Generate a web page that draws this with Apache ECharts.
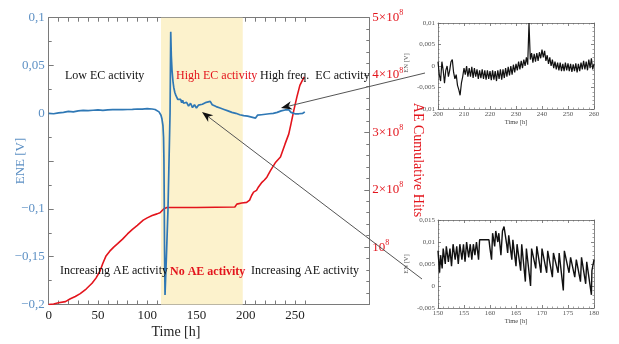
<!DOCTYPE html>
<html><head><meta charset="utf-8">
<script src="https://cdn.jsdelivr.net/npm/echarts@6/dist/echarts.min.js"></script>
<style>html,body{margin:0;padding:0;background:#fff}#chart{width:619px;height:344px}</style>
</head><body><div id="chart"></div><script>
// Electrochemical noise (ENE) and cumulative acoustic emission hits versus time
const ecTime = [0,5,10,15,20,25,30,35,40,45,50,55,60,65,70,75,80,85,90,95,100,105,108,110,112,113,114,115,116,116.6,117,117.3,117.6,118.1,
  119.5,121.1,123.2,123.9,124.5,125.2,126.2,127,128,129,
  130,131,132,133,134,135,136,137,138,139,140,142,144,146,148,150,152,154,156,158,160,162,164,166,168,170,172,174,176,178,180,
  182,184,186,188,190,192,194,196,198,200,202,204,206,208,210,212,214,216,218,220,222,224,226,228,230,
  232,234,236,238,240,242,244,246,248,250,252,254,256,258,260];
const ecValue = [0,-0.0005,0.0005,0.001,0.002,0.0015,0.0025,0.003,0.0028,0.0032,0.0035,0.003,0.0035,0.0038,0.004,0.0038,0.004,0.0042,0.0045,0.0044,0.0048,0.0045,0.004,0.0032,0.0015,0.001,-0.002,-0.006,-0.013,-0.025,-0.049,-0.09,-0.143,-0.19,
  -0.15,-0.101,0.0,0.0854,0.06,0.045,0.033,0.027,0.022,0.019,
  0.018,0.0145,0.016,0.0125,0.0145,0.011,0.0135,0.0105,0.0125,0.009,0.0115,0.0075,0.0105,0.006,0.009,0.0055,0.0085,0.0065,0.0095,0.0085,0.0115,0.0095,0.0125,0.009,0.0105,0.007,0.009,0.0055,0.0075,0.004,0.006,0.0025,
  0.0045,0.001,0.003,0.0,0.0015,-0.0015,0.0005,-0.0025,-0.0005,-0.003,-0.0015,-0.004,-0.002,-0.005,-0.002,-0.0035,-0.0015,-0.003,-0.001,-0.0025,-0.0005,-0.002,0.0,-0.001,0.001,
  0.0,0.0025,0.002,0.0035,0.0025,0.0035,0.001,0.002,-0.0005,0.0005,-0.0005,0.001,0.0,0.0015,0.0005];

const aeTime = [0,5,10,17,22,27,32,38,44,48,52,55,58,62,66,70,75,80,85,90,96,100,105,110,113,115,117,120,150,189,191,196,201,204,206,208,211,213,215,216.5,219,221.5,225,230,235.3,240,243.7,246,248.8,252,255,257.3,259.5];
const aeHits = [0,0.01e8,0.03e8,0.05e8,0.1e8,0.14e8,0.19e8,0.27e8,0.37e8,0.46e8,0.58e8,0.72e8,0.84e8,0.93e8,1.0e8,1.06e8,1.14e8,1.23e8,1.31e8,1.38e8,1.47e8,1.51e8,1.55e8,1.58e8,1.6e8,1.62e8,1.67e8,1.69e8,1.69e8,1.70e8,1.75e8,1.77e8,1.78e8,1.82e8,1.9e8,1.96e8,1.99e8,2.05e8,2.08e8,2.13e8,2.17e8,2.22e8,2.33e8,2.47e8,2.57e8,2.8e8,2.97e8,3.15e8,3.38e8,3.62e8,3.82e8,3.9e8,3.97e8];

// detail 200–260 h, one reading every half hour
const detailAStart = 200, detailAStep = 0.5;
const detailAValue = [
  0.001,-0.002,-0.0035,0.001,-0.001,-0.004,-0.001,0.0,-0.0025,-0.001,
  0.001,0.0015,-0.0015,-0.003,-0.002,-0.0045,-0.0055,-0.0068,-0.004,-0.0025,
  -0.0005,-0.002,0.0,-0.0025,-0.0005,-0.0025,-0.0002,-0.0028,-0.0005,-0.0025,
  -0.0008,-0.003,-0.001,-0.0028,-0.0008,-0.003,-0.001,-0.0032,-0.001,-0.003,
  -0.0012,-0.0033,-0.001,-0.0032,-0.0012,-0.0035,-0.001,-0.003,-0.0008,-0.0032,
  -0.0008,-0.0028,-0.0005,-0.0025,-0.0002,-0.0022,0.0,-0.002,0.0003,-0.0015,
  0.0005,-0.001,0.001,-0.0008,0.0012,-0.0005,0.0015,0.0,0.002,0.0003,
  0.01,0.0015,0.003,0.0008,0.0028,0.001,0.003,0.0012,0.0032,0.0018,
  0.0038,0.002,0.0035,0.0012,0.0025,0.0005,0.002,0.0,0.0015,-0.0005,
  0.001,-0.0008,0.0008,-0.001,0.0008,-0.0012,0.0005,-0.0012,0.0008,-0.001,
  0.0006,-0.0012,0.0005,-0.0014,0.0004,-0.0012,0.0006,-0.0015,0.0005,-0.0012,
  0.0008,-0.0008,0.0012,-0.0008,0.001,-0.001,0.0015,-0.0005,0.0018,-0.0008,
  0.0005];

// detail 150–180 h, sawtooth transients
const detailBTime = [150,150.3,150.5,150.8,151,151.4,151.6,152,152.3,152.6,152.9,153.3,153.6,153.9,154.2,154.6,154.9,155.2,155.5,155.9,156.2,156.5,156.8,157.1,157.4,157.8,158,158.3,
  159.8,160,160.3,160.5,160.9,161.1,161.5,161.7,162.1,162.4,162.7,163.2,163.4,163.6,164.2,164.4,165,165.2,165.9,166.1,166.8,167,167.8,168,168.8,169,169.8,170,170.9,171.1,172,172.2,173.1,173.3,174.1,174.3,175.2,175.5,176.3,176.6,177.4,177.6,178.4,178.6,179.5,179.6,180];
const detailBValue = [0.008,0.003,0.007,0.004,0.0085,0.005,0.009,0.0055,0.0085,0.0045,0.0095,0.006,0.009,0.005,0.0095,0.006,0.0095,0.0055,0.010,0.0065,0.0095,0.006,0.0095,0.007,0.010,0.006,0.0105,0.0105,
  0.0105,0.0085,0.006,0.012,0.009,0.0125,0.010,0.012,0.007,0.0125,0.0135,0.0095,0.0075,0.0115,0.006,0.0105,0.0045,0.0095,0.0035,0.0095,0.001,0.0085,0.0,0.0085,0.004,0.009,0.003,0.0085,0.003,0.008,0.002,0.0075,0.003,0.0075,-0.001,0.008,0.003,0.0065,0.002,0.006,0.001,0.0065,0.0005,0.0055,-0.002,0.0035,0.006];

const mainTickLabels = [0,50,100,150,200,250];
const mainTickMarks = [0,10,20,30,40,50,60,70,80,90,100,110,120,130,140,150,160,170,180,190,200,210,220,230,240,250,260];
const quietBand = [114, 197];

const SERIF = 'Liberation Serif';
const BLUE = '#2f78b5', BLUE_TXT = '#5d90c4', RED = '#e3141c', BAND = '#fcf2cc', AXIS = '#7a7a7a';

const pair = (xs, ys) => xs.map((x, i) => [x, ys[i]]);
const detailA = detailAValue.map((v, i) => [detailAStart + i * detailAStep, v]);

const leftFmt = v => {
  const r = Math.round(v * 1000) / 1000;
  if (Math.abs(r + 0.05) < 1e-9) return '';
  return (r < 0 ? '\u2212' : '') + String(Math.abs(r)).replace('.', ',');
};
const rightFmt = v => {
  const n = Math.round(v / 1e8);
  if (n === 0) return '';
  return n === 1 ? '{b|10}{s|8}' : '{b|' + n + '\u00d710}{s|8}';
};
const smallFmt = v => String(Math.round(v * 10000) / 10000).replace('.', ',');

const frameLine = { show: true, onZero: false, lineStyle: { color: AXIS, width: 1 } };
const smallAxisX = (grid, min, max, interval, pos, labels) => ({
  gridIndex: grid, type: 'value', position: pos, min, max, interval,
  axisLine: { show: true, onZero: false, lineStyle: { color: '#666', width: 0.8 } },
  axisTick: { inside: true, length: 3, lineStyle: { color: '#666', width: 0.8 } },
  minorTick: { show: true, splitNumber: 5, length: 1.5, lineStyle: { color: '#666', width: 0.6 } },
  splitLine: { show: false },
  axisLabel: { show: labels, fontFamily: SERIF, fontSize: 7, color: '#555', margin: 2 }
});
const smallAxisY = (grid, min, max, pos, labels) => ({
  gridIndex: grid, type: 'value', position: pos, min, max, interval: 0.005,
  axisLine: { show: true, onZero: false, lineStyle: { color: '#666', width: 0.8 } },
  axisTick: { inside: true, length: 3, lineStyle: { color: '#666', width: 0.8 } },
  minorTick: { show: true, splitNumber: 5, length: 1.5, lineStyle: { color: '#666', width: 0.6 } },
  splitLine: { show: false },
  axisLabel: { show: labels, fontFamily: SERIF, fontSize: 7, color: '#555', margin: 3, formatter: smallFmt }
});

function arrow(tail, tip) {
  const dx = tip[0] - tail[0], dy = tip[1] - tail[1];
  const len = Math.hypot(dx, dy), ux = dx / len, uy = dy / len;
  const L = 11, W = 4.2, nx = -uy, ny = ux;
  const bx = tip[0] - ux * L, by = tip[1] - uy * L;
  const cx = tip[0] - ux * L * 0.7, cy = tip[1] - uy * L * 0.7;
  return [
    { type: 'line', z: 50, shape: { x1: tail[0], y1: tail[1], x2: cx, y2: cy }, style: { stroke: '#555', lineWidth: 1 } },
    { type: 'polygon', z: 51, shape: { points: [tip, [bx + nx * W, by + ny * W], [cx, cy], [bx - nx * W, by - ny * W]] }, style: { fill: '#111' } }
  ];
}
const label = (text, x, y, fill, bold, size) => ({
  type: 'text', x, y, z: 40,
  style: { text, fill, font: (bold ? 'bold ' : '') + (size || 12) + 'px "' + SERIF + '"', textVerticalAlign: 'middle' }
});
const rotated = (text, x, y, fill, size, rot) => ({
  type: 'text', x, y, rotation: rot, z: 40,
  style: { text, fill, font: size + 'px "' + SERIF + '"', textAlign: 'center', textVerticalAlign: 'middle' }
});

const chart = echarts.init(document.getElementById('chart'), null, { renderer: 'canvas' });
chart.setOption({
  animation: false,
  backgroundColor: '#fff',
  grid: [
    { left: 48.7, top: 17.7, width: 320.6, height: 286.8 },
    { left: 438, top: 23, width: 156, height: 86 },
    { left: 438, top: 220, width: 156, height: 88 }
  ],
  xAxis: [
    { gridIndex: 0, type: 'value', position: 'bottom', min: 0, max: 325.5, interval: 50,
      axisLine: frameLine,
      axisTick: { inside: true, length: 4, customValues: mainTickMarks, lineStyle: { color: AXIS } },
      axisLabel: { customValues: mainTickLabels, fontFamily: SERIF, fontSize: 13, color: '#222', margin: 5 },
      splitLine: { show: false } },
    { gridIndex: 0, type: 'value', position: 'top', min: 0, max: 325.5, interval: 50,
      axisLine: frameLine,
      axisTick: { inside: true, length: 4, customValues: mainTickMarks, lineStyle: { color: AXIS } },
      axisLabel: { show: false }, splitLine: { show: false } },
    smallAxisX(1, 200, 260, 10, 'bottom', true),
    smallAxisX(1, 200, 260, 10, 'top', false),
    smallAxisX(2, 150, 180, 5, 'bottom', true),
    smallAxisX(2, 150, 180, 5, 'top', false)
  ],
  yAxis: [
    { gridIndex: 0, type: 'value', position: 'left', min: -0.2, max: 0.1, interval: 0.05,
      axisLine: frameLine,
      axisTick: { inside: true, length: 5, lineStyle: { color: AXIS } },
      minorTick: { show: true, splitNumber: 2, length: 3, lineStyle: { color: AXIS } },
      axisLabel: { fontFamily: SERIF, fontSize: 13, color: BLUE_TXT, margin: 4, formatter: leftFmt },
      splitLine: { show: false } },
    { gridIndex: 0, type: 'value', position: 'right', min: 0, max: 5e8, interval: 1e8,
      axisLine: frameLine,
      axisTick: { inside: true, length: 5, lineStyle: { color: AXIS } },
      minorTick: { show: true, splitNumber: 5, length: 3, lineStyle: { color: AXIS } },
      axisLabel: { margin: 3, formatter: rightFmt,
        rich: { b: { fontFamily: SERIF, fontSize: 13, color: RED }, s: { fontFamily: SERIF, fontSize: 8, color: RED, padding: [0, 0, 9, 0] } } },
      splitLine: { show: false } },
    smallAxisY(1, -0.01, 0.01, 'left', true),
    smallAxisY(1, -0.01, 0.01, 'right', false),
    smallAxisY(2, -0.005, 0.015, 'left', true),
    smallAxisY(2, -0.005, 0.015, 'right', false)
  ],
  series: [
    { type: 'line', xAxisIndex: 0, yAxisIndex: 0, data: [], z: 1, silent: true,
      markArea: { silent: true, itemStyle: { color: BAND, opacity: 1 },
        data: [[{ xAxis: quietBand[0] }, { xAxis: quietBand[1] }]] } },
    { name: 'AE Cumulative Hits', type: 'line', xAxisIndex: 0, yAxisIndex: 1, data: pair(aeTime, aeHits),
      showSymbol: false, z: 3, lineStyle: { color: RED, width: 1.6 } },
    { name: 'ENE', type: 'line', xAxisIndex: 0, yAxisIndex: 0, data: pair(ecTime, ecValue),
      showSymbol: false, z: 4, lineStyle: { color: BLUE, width: 1.7 } },
    { type: 'line', xAxisIndex: 2, yAxisIndex: 2, data: detailA, showSymbol: false, z: 3,
      lineStyle: { color: '#111', width: 1.2 } },
    { type: 'line', xAxisIndex: 4, yAxisIndex: 4, data: pair(detailBTime, detailBValue), showSymbol: false, z: 3,
      lineStyle: { color: '#111', width: 1.4 } }
  ],
  graphic: [
    label('Low EC activity', 65, 76, '#111'),
    label('High EC activity', 176, 76, RED),
    label('High freq.  EC activity', 260, 76, '#111'),
    label('Increasing AE activity', 60, 271, '#111'),
    label('No AE activity', 170, 272, RED, true),
    label('Increasing AE activity', 251, 271, '#111'),
    { type: 'text', x: 176, y: 332, z: 40, style: { text: 'Time [h]', fill: '#222', font: '14px "' + SERIF + '"', textAlign: 'center', textVerticalAlign: 'middle' } },
    rotated('ENE [V]', 21, 161, BLUE_TXT, 13, Math.PI / 2),
    rotated('AE Cumulative Hits', 418, 160, RED, 14, -Math.PI / 2),
    rotated('EN [V]', 406, 63, '#555', 6.5, Math.PI / 2),
    rotated('EN [V]', 406, 264, '#555', 6.5, Math.PI / 2),
    { type: 'text', x: 516, y: 122, z: 40, style: { text: 'Time [h]', fill: '#444', font: '6.5px "' + SERIF + '"', textAlign: 'center', textVerticalAlign: 'middle' } },
    { type: 'text', x: 516, y: 321, z: 40, style: { text: 'Time [h]', fill: '#444', font: '6.5px "' + SERIF + '"', textAlign: 'center', textVerticalAlign: 'middle' } },
    ...arrow([425, 73], [281, 108]),
    ...arrow([422, 279], [202, 112])
  ]
});
</script></body></html>
